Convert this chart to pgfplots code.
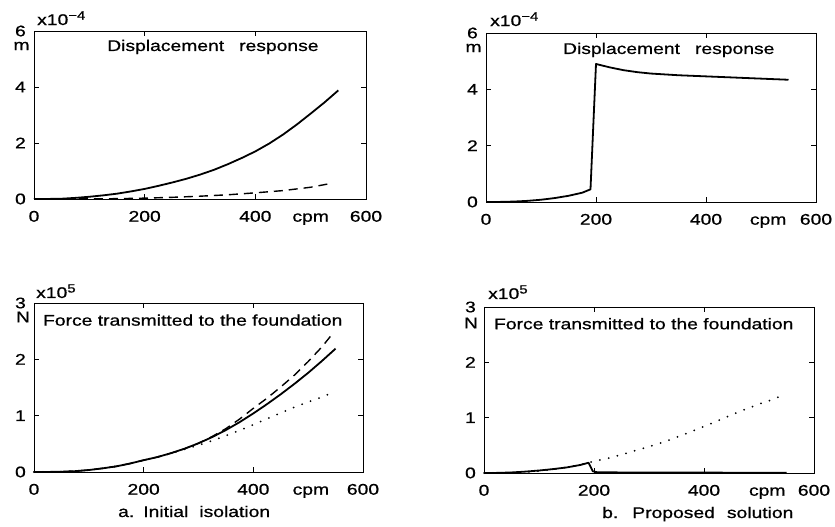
\documentclass[border=0pt]{standalone}
\usepackage{pgfplots}
\pgfplotsset{compat=1.18}
\usepackage{fontspec}
\setmainfont{Liberation Sans}[FakeStretch=1.25, FakeBold=0.7]
\pgfplotsset{
  panel/.style={
    scale only axis, anchor=south west, clip=false,
    xmin=0, xmax=600, xtick={0,200,400,600},
    tick align=inside, major tick length=5bp,
    xtick pos=both, ytick pos=both,
    xticklabel pos=lower, yticklabel pos=left,
    axis line style={line width=0.9bp},
    every tick/.style={black, line width=0.9bp},
    tick label style={font=\fontsize{15.5}{18}\selectfont},
    xticklabel style={anchor=base, inner sep=0pt, yshift=-22.7bp},
    yticklabel style={anchor=east, inner sep=0pt, xshift=-8bp},
    /pgf/number format/assume math mode=true,
  },
}
\tikzset{
  solidc/.style={black, line width=1.8bp, line join=round},
  dashedc/.style={black, line width=1.4bp, dash pattern=on 9bp off 6bp},
  dottedc/.style={black, line width=2bp, line cap=round, dash pattern=on 0bp off 9bp},
  ttl/.style={anchor=base west, inner sep=0pt},
  expo/.style={anchor=base west, inner sep=0pt, font=\fontsize{15.5}{17}\selectfont},
}
\newcommand{\expsup}[1]{\raisebox{5.5bp}{\fontsize{12}{12}\selectfont #1}}
\begin{document}
\fontsize{15.5}{18}\selectfont
\begin{tikzpicture}
\path[use as bounding box] (0bp,0bp) rectangle (835bp,527bp);

% ---------------- top left ----------------
\begin{axis}[panel, at={(34bp,328bp)}, width=332bp, height=168bp,
  ymin=0, ymax=6, ytick={0,2,4,6}]
\addplot[solidc] coordinates {
(0,0) (25,0.002) (50,0.01) (75,0.04) (100,0.08) (125,0.13) (150,0.19) (175,0.27)
(200,0.36) (225,0.47) (250,0.59) (275,0.72) (300,0.87) (325,1.04) (350,1.24)
(375,1.46) (400,1.70) (425,1.98) (450,2.30) (475,2.66) (500,3.05) (525,3.45) (550,3.88)};
\addplot[dashedc] coordinates {
(0,0) (100,0.003) (150,0.012) (200,0.03) (250,0.06) (300,0.10) (350,0.15)
(400,0.22) (450,0.30) (500,0.42) (535,0.55)};
\node[ttl] at (rel axis cs:0.22,0.881) {Displacement\hspace{15bp}response};
\node[anchor=base, yshift=-22.7bp] at (axis cs:500,0) {cpm};
\node[yshift=-15bp, xshift=-12.5bp] at (rel axis cs:0,1) {m};
\node[expo, xshift=3bp, yshift=6bp] at (rel axis cs:0,1) {x10\expsup{−4}};
\end{axis}

% ---------------- top right ----------------
\begin{axis}[panel, at={(486bp,325bp)}, width=330bp, height=169bp,
  ymin=0, ymax=6, ytick={0,2,4,6}]
\addplot[solidc] coordinates {
(0,0) (25,0.003) (50,0.015) (75,0.04) (100,0.08) (125,0.14) (150,0.22) (175,0.33)
(190,0.45) (200,4.90) (225,4.78) (250,4.68) (275,4.61) (300,4.56) (350,4.50)
(400,4.46) (450,4.42) (500,4.38) (550,4.34)};
\node[ttl] at (rel axis cs:0.233,0.876) {Displacement\hspace{15bp}response};
\node[anchor=base, yshift=-22.7bp] at (axis cs:513,0) {cpm};
\node[yshift=-15bp, xshift=-12.5bp] at (rel axis cs:0,1) {m};
\node[expo, xshift=4bp, yshift=7bp] at (rel axis cs:0,1) {x10\expsup{−4}};
\end{axis}

% ---------------- bottom left ----------------
\begin{axis}[panel, at={(34bp,55bp)}, width=329bp, height=169bp,
  ymin=0, ymax=3, ytick={0,1,2,3}]
\addplot[dottedc] coordinates {
(0,0) (25,0.001) (50,0.005) (75,0.015) (100,0.035) (125,0.065) (150,0.10) (175,0.15)
(200,0.21) (225,0.265) (250,0.33) (275,0.405) (300,0.475) (325,0.555) (350,0.645)
(375,0.74) (400,0.84) (425,0.945) (450,1.05) (475,1.15) (500,1.245) (525,1.33) (545,1.41)};
\addplot[dashedc] coordinates {
(0,0) (25,0.001) (50,0.005) (75,0.015) (100,0.035) (125,0.065) (150,0.10) (175,0.15)
(200,0.21) (225,0.265) (250,0.335) (275,0.415) (300,0.51) (325,0.63) (350,0.77)
(375,0.94) (400,1.13) (425,1.31) (450,1.51) (475,1.72) (500,1.96) (525,2.22) (545,2.46)};
\addplot[solidc] coordinates {
(0,0) (25,0.001) (50,0.005) (75,0.015) (100,0.035) (125,0.065) (150,0.10) (175,0.15)
(200,0.21) (225,0.265) (250,0.335) (275,0.415) (300,0.51) (325,0.62) (350,0.745)
(375,0.885) (400,1.04) (425,1.205) (450,1.38) (475,1.565) (500,1.76) (525,1.97) (550,2.19)};
\node[ttl] at (rel axis cs:0.027,0.866) {Force transmitted to the foundation};
\node[anchor=base, yshift=-22.7bp] at (axis cs:505,0) {cpm};
\node[yshift=-14bp, xshift=-11bp] at (rel axis cs:0,1) {N};
\node[expo, xshift=2bp, yshift=5bp] at (rel axis cs:0,1) {x10\expsup{5}};
\end{axis}

% ---------------- bottom right ----------------
\begin{axis}[panel, at={(484bp,54bp)}, width=330bp, height=166bp,
  ymin=0, ymax=3, ytick={0,1,2,3}]
\addplot[dottedc] coordinates {
(0,0) (25,0.001) (50,0.005) (75,0.015) (100,0.035) (125,0.065) (150,0.10) (175,0.15)
(200,0.21) (225,0.265) (250,0.33) (275,0.405) (300,0.475) (325,0.555) (350,0.645)
(375,0.74) (400,0.84) (425,0.945) (450,1.05) (475,1.15) (500,1.245) (525,1.33) (545,1.41)};
\addplot[solidc] coordinates {
(0,0) (25,0.002) (50,0.01) (75,0.025) (100,0.045) (125,0.07) (150,0.10) (175,0.145)
(190,0.185) (198,0.03) (205,0.015) (250,0.01) (350,0.008) (450,0.006) (550,0.005)};
\node[ttl] at (rel axis cs:0.03,0.866) {Force transmitted to the foundation};
\node[anchor=base, yshift=-22.7bp] at (axis cs:515,0) {cpm};
\node[yshift=-16bp, xshift=-13bp] at (rel axis cs:0,1) {N};
\node[expo, xshift=4bp, yshift=8bp] at (rel axis cs:0,1) {x10\expsup{5}};
\end{axis}

\node[anchor=base west, inner sep=0pt] at (118bp,10bp) {a.\hspace{9bp}Initial\hspace{11bp}isolation};
\node[anchor=base west, inner sep=0pt] at (602bp,9bp) {b.\hspace{14bp}Proposed\hspace{12bp}solution};
\end{tikzpicture}
\end{document}
